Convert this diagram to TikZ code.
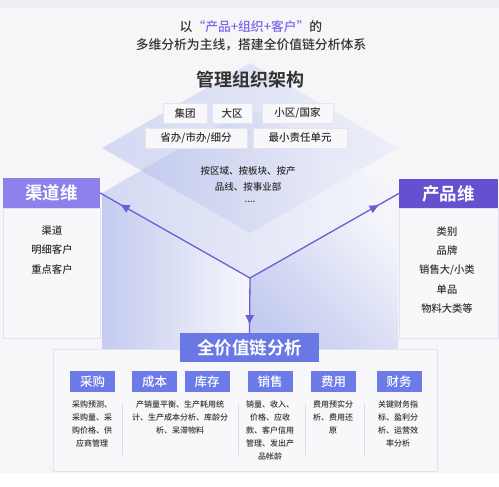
\documentclass[tikz,border=0pt]{standalone}
\usepackage{fontspec}
\setmainfont{Noto Sans CJK SC Medium}[BoldFont={Noto Sans CJK SC Bold}]
\usetikzlibrary{arrows.meta,decorations.markings}
\definecolor{bgc}{HTML}{F6F6F9}
\definecolor{topc}{HTML}{EEEEF4}
\definecolor{txt}{HTML}{333333}
\definecolor{accent}{HTML}{7A68E8}
\definecolor{arrc}{HTML}{6E5CD6}
\definecolor{lblfill}{HTML}{F8F8FB}
\definecolor{lblborder}{HTML}{E4E5EE}
\definecolor{lhead}{HTML}{8D80EA}
\definecolor{rhead}{HTML}{6650CF}
\definecolor{vchead}{HTML}{6A78E6}
\definecolor{catblue}{HTML}{6C7BE8}
\definecolor{panelfill}{HTML}{F8F8FB}
\definecolor{panelborder}{HTML}{E2E3EE}
\definecolor{sepc}{HTML}{DADBE6}
\definecolor{lavd}{HTML}{C4CBEF}
\definecolor{lavm}{HTML}{D4D9F2}
\definecolor{lavl}{HTML}{ECEEF8}
\definecolor{whl}{HTML}{F5F6FB}
\begin{document}
\begin{tikzpicture}[x=1pt,y=-1pt,
  lbl/.style={draw=lblborder,fill=lblfill,line width=0.5pt,inner sep=0pt,minimum height=20pt,text=txt,font=\fontsize{10.5}{12}\selectfont},
  cat/.style={fill=catblue,text=white,inner sep=0pt,minimum width=45pt,minimum height=21pt,font=\fontsize{12.5}{14}\selectfont},
  desc/.style={text=txt,inner sep=0pt,align=center,anchor=north,font=\fontsize{8}{13}\selectfont},
  hdr/.style={text=white,inner sep=0pt,font=\fontsize{17.5}{20}\selectfont\bfseries},
  listtxt/.style={text=txt,inner sep=0pt,align=center,font=\fontsize{10.3}{19.3}\selectfont},
  panel/.style={draw=panelborder,fill=panelfill,line width=0.6pt},
  sep/.style={draw=sepc,line width=0.6pt},
  arr/.style={draw=arrc,line width=1.3pt},
  midarrow/.style={decoration={markings,mark=at position #1 with {\arrow{Latex[length=10pt,width=9pt]}}},postaction={decorate}}
]
\useasboundingbox (0,0) rectangle (499,487);
\fill[white] (0,0) rectangle (499,487);
\fill[topc] (0,0) rectangle (499,8);
\fill[bgc] (0,8) rectangle (499,473);

% cube faces
\shade[left color=lavd,right color=whl] (102,193) -- (250,278) -- (250,349) -- (102,349) -- cycle;
\shade[top color=whl,bottom color=lavd,shading angle=-45] (250,278) -- (398,193) -- (398,349) -- (250,349) -- cycle;
% lower rhombus
\shade[left color=lavm,right color=whl] (250,108) -- (102,193) -- (250,278) -- (398,193) -- cycle;
% upper rhombus
\shade[left color=lavm,right color=lavl] (250,63) -- (102,148) -- (250,233) -- (398,148) -- cycle;
% intersection
\shade[left color=lavd,right color=lavl] (250,108) -- (141,170.5) -- (250,233) -- (359,170.5) -- cycle;

% title
\node[text=txt,align=center,inner sep=0pt,font=\fontsize{12.8}{18}\selectfont] (title) at (251,36)
  {以{\color{accent}“产品+组织+客户”}的\\多维分析为主线，搭建全价值链分析体系};
\node[text=txt,inner sep=0pt,font=\fontsize{18}{20}\selectfont\bfseries] (org) at (250,80) {管理组织架构};

% org labels
\node[lbl,minimum width=44pt] (jt) at (185,113) {集团};
\node[lbl,minimum width=40pt] (dq) at (232,113) {大区};
\node[lbl,minimum width=71pt] (xq) at (297.5,113) {小区/国家};
\node[lbl,minimum width=102pt] (sb) at (196,138) {省办/市办/细分};
\node[lbl,minimum width=94pt] (zx) at (300,138) {最小责任单元};
\node[text=txt,align=center,inner sep=0pt,font=\fontsize{9.5}{16}\selectfont] (dims) at (248,179)
  {按区域、按板块、按产\\品线、按事业部};
\node[text=txt,inner sep=0pt,font=\fontsize{9}{10}\selectfont] (dots) at (250,202) {....};

% side boxes
\draw[panel] (3,208) rectangle (100,338);
\node[hdr,fill=lhead,minimum width=97pt,minimum height=30pt] (qd) at (51.5,193) {渠道维};
\node[listtxt] (qdlist) at (52,250) {渠道\\明细客户\\重点客户};

\draw[panel] (399,208) rectangle (498,338);
\node[hdr,fill=rhead,minimum width=99pt,minimum height=29pt] (cp) at (448.5,193.5) {产品维};
\node[listtxt] (cplist) at (447,270) {类别\\品牌\\销售大/小类\\单品\\物料大类等};

% bottom panel
\draw[panel] (53,349) rectangle (437,471);
\node[hdr,fill=vchead,minimum width=139pt,minimum height=29pt] (vc) at (249.5,347.5) {全价值链分析};

% arrows
\coordinate (ctr) at (250,278);
\draw[arr,midarrow=0.87] (ctr) -- (qd.east);
\draw[arr,midarrow=0.87] (ctr) -- (cp.west);
\draw[arr,midarrow=0.86] (ctr) -- (vc.north);

% categories
\node[cat] (cg) at (92.5,381.5) {采购};
\node[cat] (cb) at (154.5,381.5) {成本};
\node[cat] (kc) at (207,381.5) {库存};
\node[cat] (xs) at (270,381.5) {销售};
\node[cat] (fy) at (333.5,381.5) {费用};
\node[cat] (cw) at (399,381.5) {财务};

\node[desc] (d1) at (92,400.5) {采购预测、\\采购量、采\\购价格、供\\应商管理};
\node[desc] (d2) at (180,400.5) {产销量平衡、生产耗用统\\计、生产成本分析、库龄分\\析、呆滞物料};
\node[desc] (d3) at (270,400.5) {销量、收入、\\价格、应收\\款、客户信用\\管理、发出产\\品帐龄};
\node[desc] (d4) at (333,400.5) {费用预实分\\析、费用还\\原};
\node[desc] (d5) at (398,400.5) {关键财务指\\标、盈利分\\析、运营效\\率分析};

\draw[sep] (122,404) -- (122,455);
\draw[sep] (238,404) -- (238,455);
\draw[sep] (305,404) -- (305,455);
\draw[sep] (364,404) -- (364,455);
\end{tikzpicture}
\end{document}
